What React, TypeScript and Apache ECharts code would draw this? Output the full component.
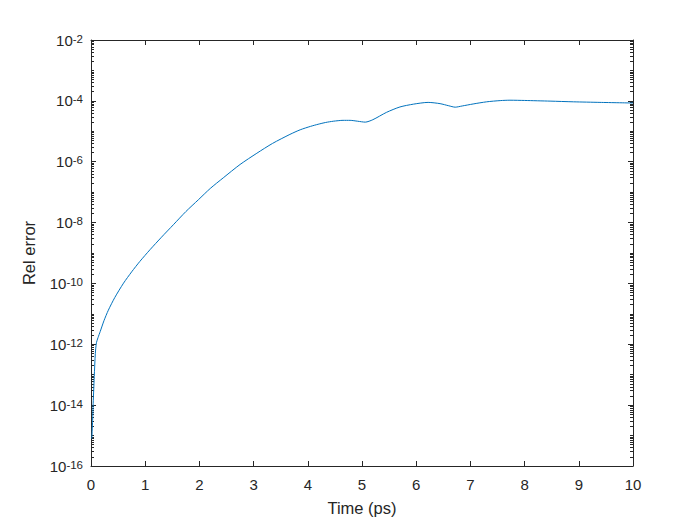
import React, { useEffect, useRef } from "react";
import * as echarts from "echarts";

const timePs = [
  0.015, 0.03, 0.04, 0.05, 0.06, 0.08, 0.1, 0.13, 0.17, 0.24, 0.32, 0.44, 0.6, 0.75, 0.9,
  1.09, 1.3, 1.52, 1.75, 1.98, 2.2, 2.44, 2.75, 3.06, 3.35, 3.67, 3.86, 4.05, 4.19, 4.33,
  4.47, 4.65, 4.78, 4.92, 5.06, 5.2, 5.45, 5.7, 5.95, 6.22, 6.44, 6.6, 6.72, 6.85, 7.05,
  7.3, 7.55, 7.73, 8.0, 8.47, 8.9, 9.39, 10,
];
const relError = [
  7.94e-16, 3.16e-15, 1.15e-14, 3.16e-14, 8.7e-14, 5.0e-13, 1.12e-12, 1.66e-12, 2.63e-12,
  6.0e-12, 1.32e-11, 3.47e-11, 1.02e-10, 2.4e-10, 5.25e-10, 1.29e-9, 3.3e-9, 8.5e-9,
  2.3e-8, 5.6e-8, 1.32e-7, 2.95e-7, 8.1e-7, 1.9e-6, 4.0e-6, 7.9e-6, 1.12e-5, 1.45e-5,
  1.7e-5, 1.95e-5, 2.14e-5, 2.29e-5, 2.29e-5, 2.14e-5, 2.0e-5, 2.4e-5, 4.17e-5, 6.3e-5,
  7.8e-5, 8.9e-5, 8.1e-5, 6.9e-5, 6.2e-5, 6.8e-5, 7.9e-5, 9.3e-5, 1.02e-4, 1.05e-4,
  1.03e-4, 9.8e-5, 9.3e-5, 8.9e-5, 8.5e-5,
];
const xTicks = [0, 1, 2, 3, 4, 5, 6, 7, 8, 9, 10];
const yMajorExponents = [-16, -14, -12, -10, -8, -6, -4, -2];
const yMinorMultipliers = [2, 3, 4, 5, 6, 7, 8, 9];

const AXIS_COLOR = "#262626";
const FONT = "'Liberation Sans', Arial, Helvetica, sans-serif";

function buildMinorTicks(): number[] {
  const out: number[] = [];
  for (let e = -16; e < -2; e++) {
    if (!yMajorExponents.includes(e)) out.push(Math.pow(10, e));
    for (const m of yMinorMultipliers) out.push(m * Math.pow(10, e));
  }
  return out;
}

export default function App() {
  const ref = useRef<HTMLDivElement>(null);
  useEffect(() => {
    if (!ref.current) return;
    const chart = echarts.init(ref.current, undefined, { renderer: "svg" });
    const minor = buildMinorTicks();
    const data = timePs.map((t, i) => [t, relError[i]]);
    const yBase = {
      type: "log" as const,
      logBase: 10,
      min: 1e-16,
      max: 1e-2,
      splitLine: { show: false },
      minorTick: { show: false },
      minorSplitLine: { show: false },
    };
    const supLabel = {
      fontFamily: FONT,
      color: AXIS_COLOR,
      margin: 8,
      formatter: (v: number) => `{b|10}{s|${Math.round(Math.log10(v))}}`,
      rich: {
        b: {
          fontSize: 15,
          fontFamily: FONT,
          color: AXIS_COLOR,
          lineHeight: 15,
          verticalAlign: "bottom",
          padding: [4.5, 0, 0, 0],
        },
        s: {
          fontSize: 11.5,
          fontFamily: FONT,
          color: AXIS_COLOR,
          lineHeight: 11.5,
          verticalAlign: "top",
        },
      },
    };
    chart.setOption({
      animation: false,
      backgroundColor: "#ffffff",
      grid: { left: 91, right: 67, top: 40, bottom: 59, containLabel: false, outerBoundsMode: "none" },
      xAxis: [
        {
          type: "value",
          min: xTicks[0],
          max: xTicks[xTicks.length - 1],
          interval: 1,
          position: "bottom",
          name: "Time (ps)",
          nameLocation: "middle",
          nameGap: 33,
          nameTextStyle: { fontSize: 16.5, fontFamily: FONT, color: AXIS_COLOR },
          axisLine: { show: true, lineStyle: { color: AXIS_COLOR, width: 1 } },
          axisTick: { show: true, inside: true, length: 5, lineStyle: { color: AXIS_COLOR } },
          axisLabel: { fontSize: 15, fontFamily: FONT, color: AXIS_COLOR, margin: 11 },
          splitLine: { show: false },
        },
        {
          type: "value",
          min: xTicks[0],
          max: xTicks[xTicks.length - 1],
          interval: 1,
          position: "top",
          axisLine: { show: true, lineStyle: { color: AXIS_COLOR, width: 1 } },
          axisTick: { show: true, inside: true, length: 5, lineStyle: { color: AXIS_COLOR } },
          axisLabel: { show: false },
          splitLine: { show: false },
        },
      ],
      yAxis: [
        {
          ...yBase,
          position: "left",
          interval: 2,
          name: "Rel error",
          nameLocation: "middle",
          nameGap: 54,
          nameTextStyle: { fontSize: 16.5, fontFamily: FONT, color: AXIS_COLOR },
          axisLine: { show: true, lineStyle: { color: AXIS_COLOR, width: 1 } },
          axisTick: { show: true, inside: true, length: 5, lineStyle: { color: AXIS_COLOR } },
          axisLabel: supLabel,
        },
        {
          ...yBase,
          position: "left",
          axisLine: { show: false },
          axisTick: { show: true, inside: true, length: 3, customValues: minor, lineStyle: { color: AXIS_COLOR } },
          axisLabel: { show: false },
        },
        {
          ...yBase,
          position: "right",
          interval: 2,
          axisLine: { show: true, lineStyle: { color: AXIS_COLOR, width: 1 } },
          axisTick: { show: true, inside: true, length: 5, lineStyle: { color: AXIS_COLOR } },
          axisLabel: { show: false },
        },
        {
          ...yBase,
          position: "right",
          axisLine: { show: false },
          axisTick: { show: true, inside: true, length: 3, customValues: minor, lineStyle: { color: AXIS_COLOR } },
          axisLabel: { show: false },
        },
      ],
      series: [
        {
          type: "line",
          xAxisIndex: 0,
          yAxisIndex: 0,
          data,
          showSymbol: false,
          smooth: 0.25,
          lineStyle: { color: "#0072BD", width: 1 },
          itemStyle: { color: "#0072BD" },
        },
      ],
    });
    return () => chart.dispose();
  }, []);
  return (
    <div
      ref={ref}
      style={{ position: "absolute", left: 0, top: 0, width: 700, height: 525, background: "#fff" }}
    />
  );
}
